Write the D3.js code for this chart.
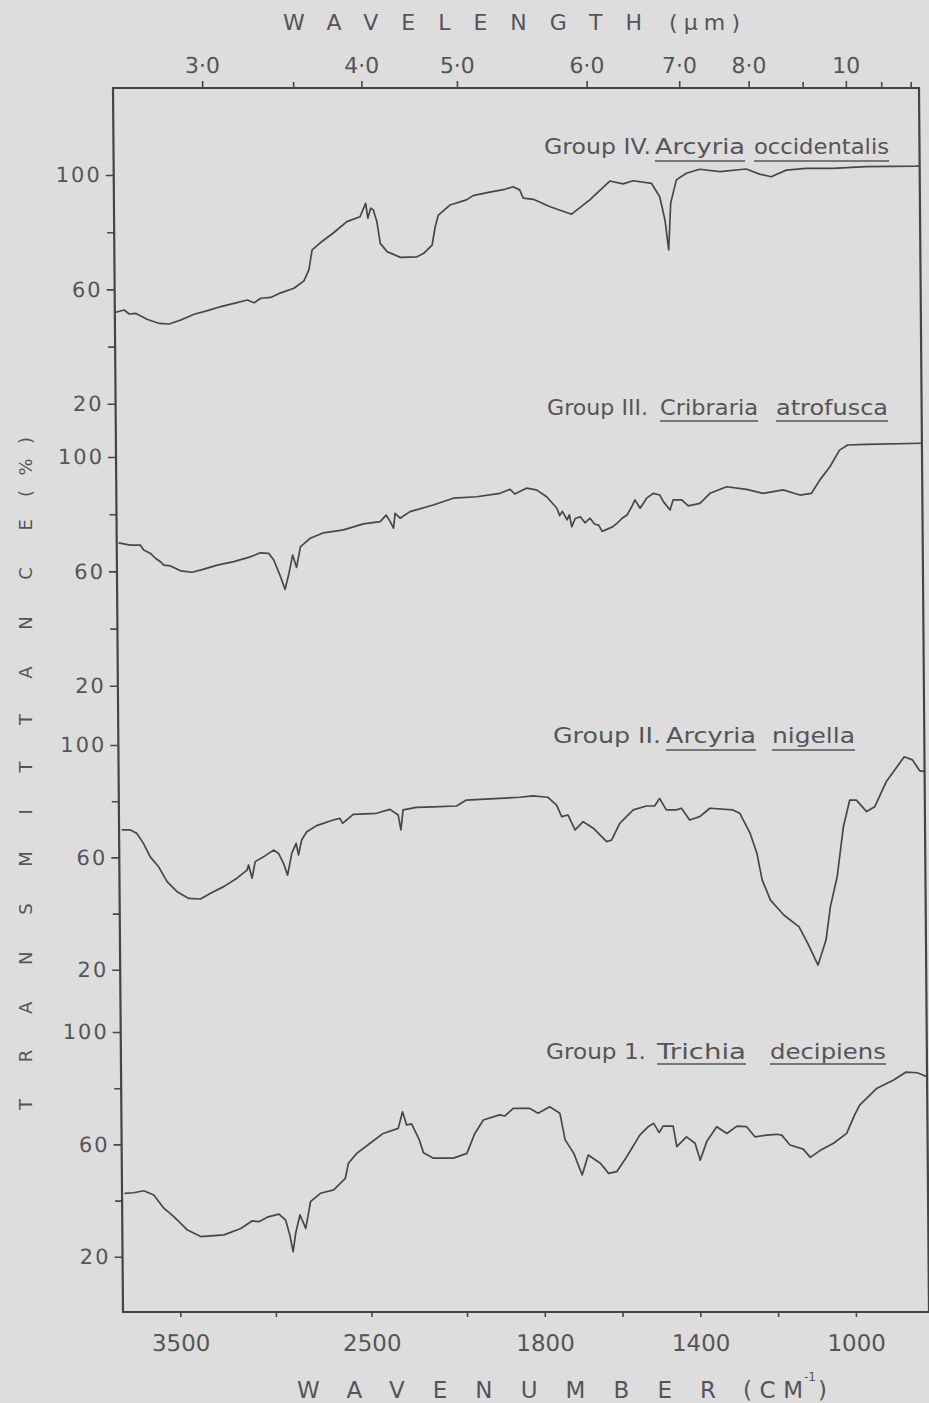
<!doctype html>
<html lang="en">
<head>
<meta charset="utf-8">
<title>IR spectra of myxomycete groups</title>
<style>
body { margin: 0; background: #dddddd; }
svg { display: block; font-family: "DejaVu Sans", sans-serif; }
.axis text { fill: #555; }
.axis line { stroke: #474747; stroke-width: 1.6; }
.trace { fill: none; stroke: #474747; stroke-width: 1.7; stroke-linejoin: round; }
.frame { fill: none; stroke: #444; stroke-width: 2.2; }
.label { fill: #555; }
.uline { stroke: #555; stroke-width: 1.6; }
</style>
</head>
<body>
<div id="chart"></div>
<script src="https://cdn.jsdelivr.net/npm/d3@7"></script>
<script>

// spectra: [wavenumber cm-1, transmittance %]
var groupIV = [[3795,52],[3751,52.8],[3725,51.4],[3690,51.6],[3629,49.5],[3568,48.1],[3516,47.9],[3455,49.3],[3385,51.3],[3315,52.6],[3245,54],[3176,55.1],[3106,56.3],[3071,55.3],[3036,56.9],[2984,57.2],[2931,58.8],[2862,60.4],[2809,63],[2783,66.8],[2765,73.8],[2722,76.3],[2652,79.8],[2582,83.7],[2513,85.4],[2483,90.1],[2472,84.9],[2457,88.4],[2443,87.8],[2425,83.7],[2408,76.1],[2373,73.2],[2303,71.2],[2216,71.4],[2181,72.6],[2137,75.5],[2120,81.9],[2103,86],[2042,89.5],[1978,91.3],[1961,92.8],[1918,94],[1879,95],[1858,95.9],[1841,94.8],[1832,91.9],[1806,91.5],[1763,88.9],[1708,86.3],[1661,91.3],[1609,97.9],[1575,96.9],[1549,98],[1502,97.1],[1481,92.4],[1468,84.3],[1459,73.8],[1453,90.1],[1438,98.3],[1412,100.6],[1378,102],[1326,101.2],[1258,102.1],[1224,100.3],[1194,99.4],[1155,101.7],[1104,102.3],[1035,102.3],[950,102.9],[822,103.1],[812,103.2]];

var groupIII = [[3790,70],[3729,69.2],[3677,69.2],[3659,67.5],[3624,66.3],[3598,64.6],[3572,63.4],[3555,62.2],[3520,61.9],[3467,60.2],[3406,59.7],[3345,60.8],[3275,62.2],[3188,63.4],[3101,65.1],[3049,66.5],[3005,66.3],[2979,64],[2944,58.1],[2921,53.7],[2900,59.3],[2880,65.7],[2860,61.4],[2839,68.6],[2787,71.6],[2717,73.5],[2613,74.5],[2508,76.6],[2421,77.4],[2389,79.7],[2368,77.4],[2351,75.1],[2342,80.3],[2316,78.6],[2264,80.9],[2142,83.2],[2037,85.6],[1958,86.1],[1898,87.3],[1872,88.7],[1860,87.1],[1830,89.1],[1804,88.5],[1778,86.1],[1752,82.1],[1745,79.5],[1738,81],[1726,78],[1720,79.8],[1714,75.6],[1705,78.5],[1692,79.1],[1680,77],[1667,78.6],[1655,76.5],[1645,76.2],[1636,74],[1624,74.7],[1610,75.5],[1598,76.8],[1585,78.5],[1572,79.7],[1560,82.5],[1551,85],[1538,82.1],[1521,85.6],[1504,87.3],[1487,86.7],[1478,84.4],[1461,81.5],[1453,85],[1431,85],[1414,82.9],[1384,83.8],[1358,87.3],[1315,89.6],[1264,88.7],[1221,87.3],[1170,88.5],[1127,86.7],[1097,87.3],[1075,92],[1049,96.6],[1024,102.4],[1003,104.2],[955,104.4],[812,104.8]];

var groupII = [[3786,69.8],[3743,69.8],[3708,68.6],[3673,65],[3638,60.2],[3595,56.7],[3551,51.4],[3499,47.8],[3438,45.4],[3377,45.2],[3324,47.2],[3255,49.6],[3185,52.6],[3132,55.5],[3124,57.3],[3106,52.6],[3089,58.5],[3045,60.2],[2993,62.6],[2967,61.5],[2941,57.9],[2920,53.7],[2897,61.5],[2874,65],[2862,60.9],[2845,66.2],[2818,69.1],[2766,71.3],[2679,73.3],[2644,73.9],[2630,72.1],[2574,75.3],[2452,75.7],[2382,77.1],[2339,75.1],[2325,69.8],[2313,76.9],[2243,77.8],[2156,78],[2033,78.3],[1991,80.4],[1905,81],[1854,81.4],[1820,81.9],[1781,81.4],[1759,78.6],[1746,74.5],[1730,75.1],[1712,69.8],[1691,72.7],[1665,70.4],[1648,68],[1631,65.6],[1618,66.2],[1597,72.1],[1562,76.9],[1528,78.3],[1507,78.3],[1494,81],[1477,76.9],[1451,76.9],[1438,77.5],[1417,73.3],[1391,74.5],[1365,77.5],[1306,76.9],[1288,75.7],[1262,68.6],[1245,61.5],[1232,52],[1211,44.8],[1177,39.5],[1138,35.3],[1116,29.4],[1090,21.7],[1069,30.6],[1057,42.5],[1039,53.1],[1022,70.9],[1005,80.4],[988,80.4],[962,76.3],[941,78],[911,86.9],[864,95.8],[843,94.7],[825,90.9],[812,90.5]];

var groupI = [[3787,42.6],[3739,42.8],[3686,43.5],[3634,42],[3582,37.3],[3530,34.3],[3459,29.5],[3390,27.2],[3268,27.8],[3180,30.1],[3119,32.8],[3085,32.5],[3041,34.1],[2980,35.2],[2945,33.1],[2922,27.2],[2907,21.8],[2893,28.4],[2870,34.9],[2840,30.1],[2814,39.6],[2762,42.6],[2692,43.8],[2631,47.9],[2614,53.3],[2570,56.8],[2500,60.4],[2431,63.9],[2352,65.7],[2329,71.6],[2308,66.9],[2282,67.3],[2242,61.6],[2221,57],[2169,55.1],[2064,55.1],[1997,56.8],[1976,63.9],[1954,68.7],[1912,70.5],[1899,70.1],[1877,72.8],[1834,72.8],[1813,71.1],[1783,73.4],[1757,71.1],[1744,61.6],[1722,56.8],[1701,49.1],[1685,56.2],[1654,53.3],[1633,49.7],[1612,50.3],[1586,55.6],[1552,63.3],[1530,66.3],[1516,67.5],[1502,64.2],[1492,66.5],[1466,66.5],[1457,59.2],[1432,62.7],[1410,60.4],[1397,54.4],[1380,61],[1354,66.3],[1328,63.9],[1302,66.5],[1277,66.3],[1256,62.7],[1226,63.3],[1200,63.6],[1187,63.3],[1166,59.8],[1132,58.3],[1114,55.4],[1089,57.8],[1054,60.4],[1020,63.9],[999,70.5],[986,74],[941,80],[898,82.9],[867,85.7],[837,85.5],[812,84.1]];

var groupNames = ["Group IV.", "Group III.", "Group II.", "Group 1."];
var genusNames = ["Arcyria", "Cribraria", "Arcyria", "Trichia"];
var speciesNames = ["occidentalis", "atrofusca", "nigella", "decipiens"];

var wavenumberTicks = [3500, 2500, 1800, 1400, 1000];
var wavenumberMinor = [3000, 2000, 1600, 1200];
var wavelengthTicks = [3, 4, 5, 6, 7, 8, 10];
var wavelengthMinor = [3.5, 9, 11, 12];
var transmittanceTicks = [100, 60, 20];
var transmittanceMinor = [80, 40];

// ---- layout ----
var width = 929, height = 1403;
var plotLeft = 123, plotRight = 929, plotTop = 88, plotBottom = 1312;
// the scanned frame leans ~10px to the left at the top
var skewDeg = Math.atan(10 / (plotBottom - plotTop)) * 180 / Math.PI;

var x = d3.scaleLinear()
    .domain([3800, 2000, 812])
    .range([plotLeft, 467, plotRight]);

var panels = [
  {data: groupIV, y0: 461, y100: 175},
  {data: groupIII, y0: 743, y100: 457},
  {data: groupII, y0: 1026, y100: 745},
  {data: groupI, y0: 1313, y100: 1032}
];

var svg = d3.select("#chart").append("svg")
    .attr("width", width)
    .attr("height", height);

var plot = svg.append("g")
    .attr("transform", "translate(0," + plotBottom + ") skewX(" + skewDeg + ") translate(0," + (-plotBottom) + ")");

function styleAxis(g, size) {
  g.select(".domain").remove();
  g.attr("font-family", "DejaVu Sans, sans-serif").attr("font-size", size);
}

panels.forEach(function(p) {
  var y = d3.scaleLinear().domain([0, 100]).range([p.y0, p.y100]);

  plot.append("g")
      .attr("class", "axis")
      .attr("transform", "translate(" + plotLeft + ",0)")
      .call(d3.axisLeft(y).tickValues(transmittanceTicks).tickSize(8).tickPadding(4))
      .call(styleAxis, 21)
      .selectAll("text").style("letter-spacing", "2px");

  plot.append("g")
      .attr("class", "axis")
      .attr("transform", "translate(" + plotLeft + ",0)")
      .call(d3.axisLeft(y).tickValues(transmittanceMinor).tickSize(7).tickFormat(""))
      .call(styleAxis, 21);

  var line = d3.line()
      .x(function(d) { return x(d[0]); })
      .y(function(d) { return y(d[1]); });

  plot.append("path")
      .datum(p.data)
      .attr("class", "trace")
      .attr("d", line);
});

// bottom: wavenumber
plot.append("g")
    .attr("class", "axis")
    .attr("transform", "translate(0," + plotBottom + ")")
    .call(d3.axisBottom(x).tickValues(wavenumberTicks).tickSize(5).tickPadding(18).tickFormat(d3.format("d")))
    .call(styleAxis, 23);

plot.append("g")
    .attr("class", "axis")
    .attr("transform", "translate(0," + plotBottom + ")")
    .call(d3.axisBottom(x).tickValues(wavenumberMinor).tickSize(5).tickFormat(""))
    .call(styleAxis, 23);

// top: wavelength, same scale through 10000/um
var umLabel = function(w) { return w >= 10 ? String(w) : w.toFixed(1).replace(".", "\u00b7"); };

plot.append("g")
    .attr("class", "axis")
    .attr("transform", "translate(0," + plotTop + ")")
    .call(d3.axisTop(x)
        .tickValues(wavelengthTicks.map(function(w) { return 1e4 / w; }))
        .tickSize(7).tickPadding(8)
        .tickFormat(function(d, i) { return umLabel(wavelengthTicks[i]); }))
    .call(styleAxis, 22);

plot.append("g")
    .attr("class", "axis")
    .attr("transform", "translate(0," + plotTop + ")")
    .call(d3.axisTop(x)
        .tickValues(wavelengthMinor.map(function(w) { return 1e4 / w; }))
        .tickSize(6).tickFormat(""))
    .call(styleAxis, 22);

plot.append("path")
    .attr("class", "frame")
    .attr("d", "M" + plotLeft + "," + plotTop + "H" + plotRight + "V" + plotBottom + "H" + plotLeft + "Z");

// ---- group titles (genus and species underlined) ----
var titleLayout = [
  {y: 154, ul: 161, prefix: [544, 107], genus: [655, 90], species: [754, 135]},
  {y: 415, ul: 421, prefix: [547, 101], genus: [660, 98], species: [776, 112]},
  {y: 743, ul: 750, prefix: [553, 108], genus: [666, 90], species: [772, 83]},
  {y: 1059, ul: 1064, prefix: [546, 100], genus: [657, 89], species: [770, 116]}
];

titleLayout.forEach(function(t, i) {
  var g = svg.append("g").attr("class", "label").attr("font-size", 21);
  [[groupNames[i], t.prefix, false], [genusNames[i], t.genus, true], [speciesNames[i], t.species, true]]
    .forEach(function(part) {
      g.append("text")
          .attr("x", part[1][0])
          .attr("y", t.y)
          .attr("textLength", part[1][1])
          .attr("lengthAdjust", "spacingAndGlyphs")
          .text(part[0]);
      if (part[2]) {
        g.append("line")
            .attr("class", "uline")
            .attr("x1", part[1][0]).attr("x2", part[1][0] + part[1][1])
            .attr("y1", t.ul).attr("y2", t.ul);
      }
    });
});

// ---- axis titles ----
var topTitle = svg.append("g").attr("class", "label").attr("font-size", 22);
topTitle.append("text").attr("x", 283).attr("y", 30)
    .attr("textLength", 359).attr("lengthAdjust", "spacing").text("WAVELENGTH");
topTitle.append("text").attr("x", 669).attr("y", 30)
    .attr("textLength", 71).attr("lengthAdjust", "spacing").text("(\u03bcm)");

var bottomTitle = svg.append("g").attr("class", "label").attr("font-size", 23);
bottomTitle.append("text").attr("x", 297).attr("y", 1398)
    .attr("textLength", 419).attr("lengthAdjust", "spacing").text("WAVENUMBER");
bottomTitle.append("text").attr("x", 743).attr("y", 1398)
    .attr("textLength", 60).attr("lengthAdjust", "spacing").text("(CM");
bottomTitle.append("text").attr("x", 804).attr("y", 1381).attr("font-size", 12).text("-1");
bottomTitle.append("text").attr("x", 818).attr("y", 1398).text(")");

var yTitle = svg.append("g").attr("class", "label").attr("font-size", 18);
yTitle.append("text")
    .attr("transform", "translate(32,1110) rotate(-90)")
    .attr("textLength", 591).attr("lengthAdjust", "spacing")
    .text("TRANSMITTANCE");
yTitle.append("text")
    .attr("transform", "translate(32,497) rotate(-90)")
    .attr("textLength", 60).attr("lengthAdjust", "spacing")
    .text("(%)");

</script>
</body>
</html>
